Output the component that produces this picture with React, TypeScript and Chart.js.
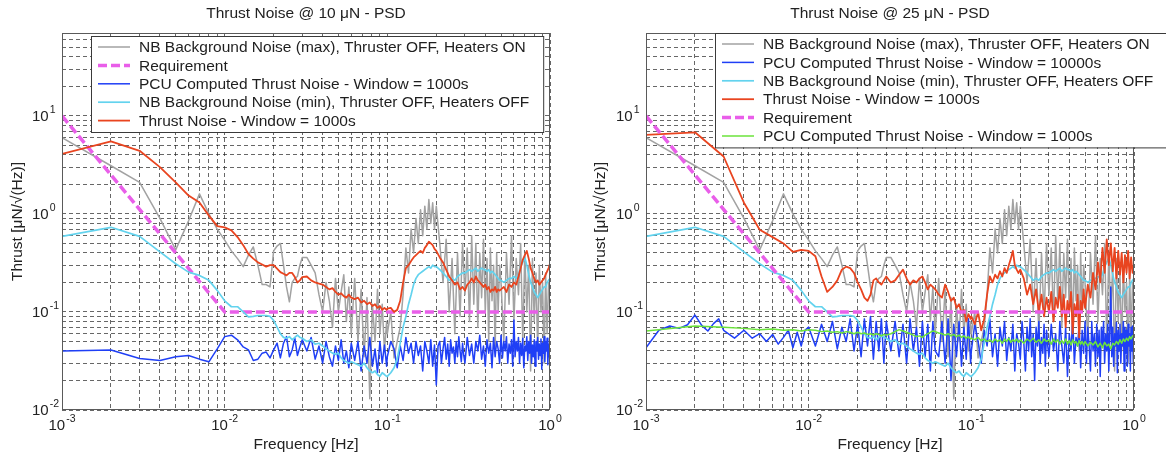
import React, { useEffect, useRef } from 'react';
import { Chart, registerables } from 'chart.js';

Chart.register(...registerables);

const FONT = '"Liberation Sans", Arial, Helvetica, sans-serif';

// ---------- DATA ----------
// Shared frequency grid, in mHz
const FREQ_MHZ = [
  1, 2, 3, 4, 5, 6, 7, 8, 9, 10, 11, 12, 13, 14, 15, 16, 17, 18, 19, 20, 21, 22, 23, 24, 25, 26, 27, 28, 29, 30,
  32, 34, 36, 38, 40, 42, 44, 46, 48, 50, 52, 54, 56, 58, 60,
  63, 66, 69, 72, 75, 78, 81, 84, 87, 90, 93, 96, 99,
  100, 105, 110, 115, 120, 125, 130, 135, 140, 145, 150, 155, 160, 165, 170, 175, 180, 185, 190, 195,
  200, 210, 220, 230, 240, 250, 260, 270, 280, 290,
  300, 310, 320, 330, 340, 350, 360, 370, 380, 390, 400, 410, 420, 430, 440, 450, 460, 470, 480, 490,
  500, 520, 540, 560, 580, 600, 620, 640, 660, 680, 700, 720, 740, 760, 780, 800, 820, 840, 860, 880, 900, 920, 940, 960, 980, 1000,
];

// Finer low-frequency grid for the 10000 s window series (mHz)
const FREQ_FINE_LOW_MHZ = [1, 1.2, 1.4, 1.6, 1.8, 2, 2.2, 2.4, 2.6, 2.8, 3, 3.5, 4, 4.5, 5, 5.5, 6, 6.5, 7, 7.5, 8, 8.5, 9, 9.5];

// Denser high-frequency grid for the PCU (blue) series (mHz)
const FREQ_HIGH_DENSE_MHZ = [
  100, 105, 110, 115, 120, 125, 130, 135, 140, 145, 150, 155, 160, 165, 170, 175, 180, 185, 190, 195,
  200, 205, 210, 215, 220, 225, 230, 235, 240, 245, 250, 255, 260, 265, 270, 275, 280, 285, 290, 295, 300,
  310, 320, 330, 340, 350, 360, 370, 380, 390, 400,
  410, 420, 430, 440, 450, 460, 470, 480, 490, 500,
  510, 520, 530, 540, 550, 560, 570, 580, 590, 600,
  610, 620, 630, 640, 650, 660, 670, 680, 690, 700,
  710, 720, 730, 740, 750, 760, 770, 780, 790, 800,
  810, 820, 830, 840, 850, 860, 870, 880, 890, 900,
  910, 920, 930, 940, 950, 960, 970, 980, 990, 1000,
];

const REQ_FREQ_HZ = [0.001, 0.01, 1];
const REQ_VALUES = [10, 0.1, 0.1];

// NB background noise (max), thruster OFF, heaters ON
const BG_MAX = [
  6.0, 3.1, 2.1, 0.9, 0.43, 0.85, 1.6, 1.0, 0.7, 0.54, 0.42, 0.35, 0.29, 0.38, 0.46, 0.3, 0.19, 0.19, 0.18, 0.42, 0.47, 0.5, 0.3, 0.18, 0.127, 0.2, 0.22, 0.23, 0.3, 0.36,
  0.36, 0.3, 0.25, 0.15, 0.1, 0.2, 0.13, 0.07, 0.22, 0.1, 0.16, 0.24, 0.08, 0.18, 0.06,
  0.22, 0.05, 0.17, 0.035, 0.14, 0.013, 0.12, 0.05, 0.17, 0.06, 0.12, 0.04, 0.08,
  0.06, 0.1, 0.034, 0.05, 0.07, 0.15, 0.45, 0.25, 0.7, 0.4, 0.9, 0.5, 1.1, 0.6, 1.2, 0.7, 1.4, 0.8, 1.3, 0.7,
  1.2, 0.5, 0.2, 0.55, 0.1, 0.35, 0.06, 0.4, 0.09, 0.5,
  0.15, 0.45, 0.08, 0.6, 0.12, 0.5, 0.07, 0.4, 0.14, 0.55, 0.1, 0.35, 0.05, 0.45, 0.13, 0.3, 0.04, 0.4, 0.1, 0.3,
  0.2, 0.05, 0.4, 0.12, 0.6, 0.08, 0.35, 0.15, 0.5, 0.05, 0.4, 0.1, 0.3, 0.025, 0.35, 0.08, 0.25, 0.04, 0.3, 0.1, 0.2, 0.03, 0.25, 0.06, 0.2, 0.15,
];

// NB background noise (min), thruster OFF, heaters OFF
const BG_MIN = [
  0.59, 0.73, 0.59, 0.41, 0.31, 0.255, 0.236, 0.21, 0.166, 0.13, 0.113, 0.113, 0.1, 0.089, 0.09, 0.092, 0.092, 0.092, 0.09, 0.082, 0.07, 0.06, 0.055, 0.054, 0.056, 0.052, 0.055, 0.058, 0.055, 0.054,
  0.05, 0.052, 0.047, 0.048, 0.045, 0.042, 0.04, 0.038, 0.037, 0.038, 0.034, 0.032, 0.031, 0.03, 0.031,
  0.03, 0.029, 0.028, 0.03, 0.027, 0.025, 0.024, 0.025, 0.023, 0.022, 0.024, 0.023, 0.022,
  0.022, 0.024, 0.027, 0.033, 0.048, 0.07, 0.09, 0.12, 0.15, 0.19, 0.22, 0.24, 0.25, 0.26, 0.27, 0.28, 0.29, 0.28, 0.3, 0.29,
  0.29, 0.27, 0.25, 0.23, 0.21, 0.22, 0.21, 0.23, 0.24, 0.25,
  0.25, 0.26, 0.27, 0.26, 0.27, 0.28, 0.26, 0.27, 0.28, 0.27, 0.27, 0.26, 0.27, 0.25, 0.26, 0.25, 0.24, 0.23, 0.22, 0.21,
  0.21, 0.2, 0.21, 0.22, 0.22, 0.23, 0.22, 0.24, 0.29, 0.32, 0.36, 0.3, 0.24, 0.2, 0.18, 0.16, 0.15, 0.14, 0.15, 0.16, 0.17, 0.18, 0.18, 0.2, 0.21, 0.22,
];

// 10 uN: PCU computed thrust noise, window 1000 s (1..99 mHz on shared grid, then dense grid)
const PCU_10 = [
  0.04, 0.041, 0.0335, 0.032, 0.035, 0.036, 0.033, 0.031, 0.042, 0.056, 0.058, 0.052, 0.044, 0.041, 0.032, 0.033, 0.038, 0.039, 0.034, 0.041, 0.048, 0.034, 0.048, 0.056, 0.035, 0.041, 0.054, 0.036, 0.044, 0.052,
  0.04, 0.055, 0.033, 0.045, 0.03, 0.05, 0.035, 0.028, 0.045, 0.032, 0.052, 0.03, 0.04, 0.027, 0.048,
  0.032, 0.05, 0.025, 0.045, 0.03, 0.055, 0.028, 0.042, 0.024, 0.05, 0.03, 0.046, 0.028,
  0.035, 0.05, 0.042, 0.027, 0.045, 0.032, 0.055, 0.038, 0.048, 0.03,
  0.05, 0.036, 0.045, 0.025, 0.05, 0.04, 0.03, 0.052, 0.028, 0.046,
  0.018, 0.045, 0.05, 0.03, 0.042, 0.055, 0.033, 0.047, 0.028, 0.052,
  0.038, 0.044, 0.03, 0.05, 0.035, 0.056, 0.04, 0.031, 0.048, 0.036, 0.03,
  0.055, 0.036, 0.047, 0.03, 0.05, 0.04, 0.058, 0.033, 0.045, 0.028,
  0.052, 0.038, 0.048, 0.027, 0.055, 0.035, 0.05, 0.042, 0.03, 0.058,
  0.034, 0.05, 0.04, 0.056, 0.03, 0.047, 0.038, 0.052, 0.028, 0.083,
  0.035, 0.05, 0.04, 0.055, 0.03, 0.048, 0.036, 0.054, 0.027, 0.045,
  0.04, 0.056, 0.032, 0.05, 0.038, 0.058, 0.03, 0.046, 0.035, 0.052,
  0.028, 0.05, 0.04, 0.055, 0.033, 0.047, 0.036, 0.053, 0.026, 0.048,
  0.038, 0.056, 0.031, 0.05, 0.04, 0.054, 0.029, 0.047, 0.035, 0.045,
];

// 10 uN: thrust noise, window 1000 s
const THRUST_10 = [
  4.1, 5.5, 4.4, 3.0, 2.1, 1.54, 1.31, 0.96, 0.75, 0.73, 0.68, 0.58, 0.48, 0.39, 0.35, 0.32, 0.305, 0.29, 0.3, 0.3, 0.276, 0.255, 0.245, 0.236, 0.25, 0.25, 0.227, 0.2, 0.21, 0.227,
  0.23, 0.21, 0.2, 0.195, 0.19, 0.18, 0.17, 0.175, 0.16, 0.15, 0.155, 0.145, 0.14, 0.15, 0.14,
  0.135, 0.14, 0.125, 0.13, 0.12, 0.125, 0.115, 0.12, 0.11, 0.115, 0.105, 0.11, 0.105,
  0.108, 0.11, 0.1, 0.105, 0.13, 0.2, 0.28, 0.3, 0.33, 0.36, 0.38, 0.4, 0.42, 0.4, 0.45, 0.48, 0.52, 0.5, 0.48, 0.44,
  0.42, 0.36, 0.32, 0.27, 0.23, 0.21, 0.19, 0.2, 0.17, 0.18,
  0.165, 0.19, 0.2, 0.22, 0.2, 0.23, 0.21, 0.2, 0.19, 0.18, 0.19, 0.17, 0.18, 0.16, 0.17, 0.165, 0.18, 0.16, 0.17, 0.165,
  0.17, 0.18, 0.16, 0.19, 0.18, 0.2, 0.19, 0.23, 0.28, 0.34, 0.38, 0.42, 0.35, 0.28, 0.25, 0.22, 0.2, 0.21, 0.19, 0.2, 0.21, 0.22, 0.24, 0.26, 0.28, 0.31,
];

// 25 uN: thrust noise, window 1000 s
const THRUST_25 = [
  6.4, 6.8, 3.85, 1.3, 0.69, 0.58, 0.5, 0.41, 0.43, 0.42, 0.37, 0.23, 0.16, 0.18, 0.21, 0.27, 0.29, 0.28, 0.25, 0.2, 0.17, 0.14, 0.13, 0.15, 0.21, 0.22, 0.2, 0.19, 0.21, 0.23,
  0.2, 0.21, 0.24, 0.27, 0.22, 0.19, 0.21, 0.2, 0.22, 0.23, 0.2, 0.17, 0.19, 0.18, 0.17,
  0.15, 0.14, 0.19, 0.16, 0.13, 0.14, 0.11, 0.12, 0.1, 0.105, 0.08, 0.095, 0.085,
  0.09, 0.075, 0.1, 0.065, 0.085, 0.15, 0.23, 0.2, 0.24, 0.22, 0.26, 0.23, 0.28, 0.25, 0.3, 0.35, 0.42, 0.3, 0.27, 0.25,
  0.27, 0.22, 0.15, 0.19, 0.12, 0.17, 0.1, 0.15, 0.09, 0.14,
  0.1, 0.16, 0.08, 0.14, 0.11, 0.18, 0.09, 0.15, 0.07, 0.13, 0.1, 0.16, 0.06, 0.12, 0.09, 0.15, 0.055, 0.13, 0.1, 0.17,
  0.11, 0.19, 0.14, 0.25, 0.17, 0.32, 0.2, 0.45, 0.25, 0.55, 0.3, 0.5, 0.26, 0.45, 0.22, 0.42, 0.24, 0.4, 0.2, 0.38, 0.25, 0.42, 0.22, 0.36, 0.25, 0.3,
];

// 25 uN: PCU computed thrust noise, window 10000 s (fine low grid, 10..99 mHz shared grid, then dense grid)
const PCU_25_10000 = [
  0.043, 0.065, 0.072, 0.068, 0.074, 0.093, 0.073, 0.064, 0.076, 0.085, 0.065, 0.054, 0.065, 0.054, 0.06, 0.05, 0.059, 0.047, 0.055, 0.065, 0.043, 0.062, 0.045, 0.065,
  0.07, 0.045, 0.075, 0.05, 0.08, 0.042, 0.07, 0.05, 0.085, 0.04, 0.075, 0.035, 0.085, 0.045, 0.09, 0.033, 0.08, 0.04, 0.085, 0.03, 0.08,
  0.04, 0.08, 0.035, 0.075, 0.03, 0.085, 0.04, 0.07, 0.028, 0.08, 0.035, 0.075, 0.025, 0.08, 0.04,
  0.035, 0.08, 0.03, 0.085, 0.02, 0.075, 0.035, 0.08, 0.028, 0.07, 0.033, 0.085, 0.03,
  0.04, 0.075, 0.05, 0.03, 0.065, 0.045, 0.085, 0.035, 0.06, 0.028,
  0.07, 0.045, 0.08, 0.032, 0.055, 0.04, 0.075, 0.025, 0.06, 0.048,
  0.033, 0.08, 0.05, 0.025, 0.07, 0.04, 0.085, 0.035, 0.06, 0.02,
  0.07, 0.045, 0.08, 0.03, 0.055, 0.038, 0.075, 0.028, 0.065, 0.045, 0.035,
  0.075, 0.04, 0.06, 0.025, 0.08, 0.045, 0.03, 0.07, 0.022, 0.06,
  0.04, 0.085, 0.03, 0.055, 0.045, 0.075, 0.027, 0.065, 0.038, 0.08,
  0.03, 0.07, 0.045, 0.025, 0.08, 0.04, 0.06, 0.028, 0.075, 0.035,
  0.065, 0.022, 0.07, 0.045, 0.08, 0.03, 0.06, 0.04, 0.075, 0.025,
  0.065, 0.18, 0.035, 0.07, 0.028, 0.06, 0.045, 0.078, 0.024, 0.065,
  0.04, 0.075, 0.03, 0.06, 0.045, 0.08, 0.025, 0.07, 0.038, 0.065,
  0.028, 0.075, 0.045, 0.06, 0.025, 0.07, 0.04, 0.072, 0.03, 0.065,
];

// 25 uN: PCU computed thrust noise, window 1000 s
const PCU_25_1000 = [
  0.064, 0.072, 0.07, 0.068, 0.066, 0.067, 0.065, 0.066, 0.064, 0.066, 0.065, 0.063, 0.064, 0.062, 0.063, 0.061, 0.063, 0.062, 0.06, 0.062, 0.06, 0.061, 0.059, 0.06, 0.058, 0.06, 0.059, 0.057, 0.059, 0.058,
  0.06, 0.063, 0.066, 0.064, 0.062, 0.06, 0.058, 0.056, 0.057, 0.055, 0.058, 0.06, 0.062, 0.064, 0.063,
  0.061, 0.06, 0.058, 0.06, 0.057, 0.059, 0.056, 0.058, 0.055, 0.057, 0.054, 0.056, 0.053,
  0.054, 0.052, 0.055, 0.051, 0.053, 0.05, 0.052, 0.049, 0.053, 0.05, 0.052, 0.048, 0.053, 0.05, 0.054, 0.049, 0.052, 0.05, 0.053, 0.049,
  0.052, 0.048, 0.053, 0.05, 0.054, 0.049, 0.052, 0.048, 0.053, 0.05,
  0.052, 0.047, 0.053, 0.049, 0.052, 0.047, 0.051, 0.048, 0.053, 0.047, 0.051, 0.046, 0.052, 0.048, 0.05, 0.045, 0.051, 0.047, 0.05, 0.046,
  0.05, 0.045, 0.049, 0.046, 0.05, 0.044, 0.048, 0.043, 0.049, 0.045, 0.047, 0.042, 0.048, 0.046, 0.05, 0.047, 0.052, 0.048, 0.053, 0.05, 0.054, 0.051, 0.056, 0.053, 0.057, 0.058,
];

// Axis decades (tick label exponents) and limits
const X_EXPONENTS = [-3, -2, -1, 0];
const Y_EXPONENTS = [-2, -1, 0, 1];
const X_MIN = 0.001, X_MAX = 1;
const Y_MIN = 0.01, Y_MAX = 70;

const TITLE_10 = 'Thrust Noise @ 10 \u03BCN - PSD';
const TITLE_25 = 'Thrust Noise @ 25 \u03BCN - PSD';
const X_TITLE = 'Frequency [Hz]';
const Y_TITLE = 'Thrust [\u03BCN/\u221A(Hz)]';

const LBL_BG_MAX = 'NB Background Noise (max), Thruster OFF, Heaters ON';
const LBL_BG_MIN = 'NB Background Noise (min), Thruster OFF, Heaters OFF';
const LBL_REQ = 'Requirement';
const LBL_PCU_1000 = 'PCU Computed Thrust Noise - Window = 1000s';
const LBL_PCU_10000 = 'PCU Computed Thrust Noise - Window = 10000s';
const LBL_THRUST = 'Thrust Noise - Window = 1000s';

// ---------- STYLE ----------
const C_GRAY = '#a2a2a2';
const C_MAGENTA = '#e95ee9';
const C_BLUE = '#1f3ff6';
const C_CYAN = '#63d3ee';
const C_RED = '#e9441f';
const C_GREEN = '#6be33b';

function gridValues(min: number, max: number) {
  const out: number[] = [];
  for (let e = Math.floor(Math.log10(min)); e <= Math.ceil(Math.log10(max)); e++) {
    for (let m = 1; m <= 9; m++) {
      const v = parseFloat((m * Math.pow(10, e)).toPrecision(6));
      if (v >= min * 0.9999 && v <= max * 1.0001) out.push(v);
    }
  }
  return out;
}

const ptsMHz = (freq: number[], vals: number[]) =>
  vals.map((v, i) => ({ x: freq[i] / 1000, y: v })).filter((p) => Number.isFinite(p.x));
const ptsHz = (freq: number[], vals: number[]) => vals.map((v, i) => ({ x: freq[i], y: v }));

function drawPow(ctx: CanvasRenderingContext2D, x: number, y: number, e: number, align: 'center' | 'left') {
  ctx.font = `15px ${FONT}`;
  const w1 = ctx.measureText('10').width;
  ctx.font = `10.5px ${FONT}`;
  const es = String(e);
  const w2 = ctx.measureText(es).width;
  const start = align === 'center' ? x - (w1 + w2 + 1) / 2 : x;
  ctx.textAlign = 'left';
  ctx.textBaseline = 'middle';
  ctx.font = `15px ${FONT}`;
  ctx.fillText('10', start, y);
  ctx.font = `10.5px ${FONT}`;
  ctx.fillText(es, start + w1 + 1, y - 7);
}

const matlabPlugin = {
  id: 'matlab',
  afterDraw(chart: any, _args: any, opts: any) {
    const { ctx, chartArea: a, scales } = chart;
    const xs = scales.x;
    const ys = scales.y;
    ctx.save();
    ctx.setLineDash([]);
    // axes box
    ctx.strokeStyle = '#5a5a5a';
    ctx.lineWidth = 1;
    ctx.strokeRect(a.left + 0.5, a.top + 0.5, a.right - a.left - 1, a.bottom - a.top - 1);

    ctx.fillStyle = '#222';
    // tick labels
    for (const e of X_EXPONENTS) {
      drawPow(ctx, xs.getPixelForValue(Math.pow(10, e)), a.bottom + 16, e, 'center');
    }
    for (const e of Y_EXPONENTS) {
      drawPow(ctx, a.left - 30, ys.getPixelForValue(Math.pow(10, e)) + 1, e, 'left');
    }
    // titles
    ctx.font = `15.5px ${FONT}`;
    ctx.textAlign = 'center';
    ctx.textBaseline = 'middle';
    ctx.fillText(opts.title, (a.left + a.right) / 2, 14);
    ctx.fillText(X_TITLE, (a.left + a.right) / 2, 445);
    ctx.save();
    ctx.translate(18, (a.top + a.bottom) / 2);
    ctx.rotate(-Math.PI / 2);
    ctx.fillText(Y_TITLE, 0, 0);
    ctx.restore();

    // legend
    const items = chart.data.datasets;
    ctx.font = `15.5px ${FONT}`;
    const maxW = Math.max(...items.map((d: any) => ctx.measureText(d.label).width));
    const rowH = 18.4;
    const bx = a.left + opts.legendDx;
    const by = a.top + opts.legendDy;
    const bw = 48 + maxW + 14;
    const bh = items.length * rowH + 4;
    ctx.fillStyle = '#ffffff';
    ctx.fillRect(bx, by, bw, bh);
    ctx.strokeStyle = '#3a3a3a';
    ctx.lineWidth = 1;
    ctx.strokeRect(bx + 0.5, by + 0.5, bw, bh);
    items.forEach((d: any, i: number) => {
      const cy = by + 11 + i * rowH;
      ctx.strokeStyle = d.borderColor;
      ctx.lineWidth = Math.min(d.borderWidth, 3.5);
      ctx.setLineDash(d.borderDash || []);
      ctx.beginPath();
      ctx.moveTo(bx + 7, cy);
      ctx.lineTo(bx + 39, cy);
      ctx.stroke();
      ctx.setLineDash([]);
      ctx.fillStyle = '#1e1e1e';
      ctx.textAlign = 'left';
      ctx.textBaseline = 'middle';
      ctx.fillText(d.label, bx + 48, cy + 1);
    });
    ctx.restore();
  },
};

function line(label: string, data: any[], color: string, width: number, order: number, dash?: number[]) {
  return {
    label,
    data,
    borderColor: color,
    backgroundColor: color,
    borderWidth: width,
    borderDash: dash || [],
    pointRadius: 0,
    fill: false,
    tension: 0,
    order,
    borderJoinStyle: 'round',
  };
}

function makeOptions(title: string, padLeft: number, padRight: number, legendDx: number, legendDy: number) {
  const gridCfg = { color: 'rgba(30,30,30,0.85)', lineWidth: 0.8, drawTicks: false };
  const borderCfg = { display: false, dash: [4, 3] };
  return {
    responsive: false,
    animation: false,
    events: [],
    layout: { padding: { left: padLeft, right: padRight, top: 33, bottom: 47 }, autoPadding: false },
    plugins: {
      legend: { display: false },
      tooltip: { enabled: false },
      title: { display: false },
      matlab: { title, legendDx, legendDy },
    },
    scales: {
      x: {
        type: 'logarithmic',
        min: X_MIN,
        max: X_MAX,
        ticks: { display: false },
        grid: gridCfg,
        border: borderCfg,
        afterBuildTicks: (s: any) => {
          s.ticks = gridValues(X_MIN, X_MAX).map((v) => ({ value: v }));
        },
      },
      y: {
        type: 'logarithmic',
        min: Y_MIN,
        max: Y_MAX,
        ticks: { display: false },
        grid: gridCfg,
        border: borderCfg,
        afterBuildTicks: (s: any) => {
          s.ticks = gridValues(Y_MIN, Y_MAX).map((v) => ({ value: v }));
        },
      },
    },
  };
}

function leftConfig(): any {
  const blueFreq = [...FREQ_MHZ.slice(0, 58), ...FREQ_HIGH_DENSE_MHZ];
  return {
    type: 'line',
    data: {
      datasets: [
        line(LBL_BG_MAX, ptsMHz(FREQ_MHZ, BG_MAX), C_GRAY, 1.5, 5),
        line(LBL_REQ, ptsHz(REQ_FREQ_HZ, REQ_VALUES), C_MAGENTA, 3.5, 4, [9, 4]),
        line(LBL_PCU_1000, ptsMHz(blueFreq, PCU_10), C_BLUE, 1.5, 3),
        line(LBL_BG_MIN, ptsMHz(FREQ_MHZ, BG_MIN), C_CYAN, 1.7, 2),
        line(LBL_THRUST, ptsMHz(FREQ_MHZ, THRUST_10), C_RED, 1.8, 1),
      ],
    },
    options: makeOptions(TITLE_10, 62, 33, 29, 3),
    plugins: [matlabPlugin],
  };
}

function rightConfig(): any {
  const blueFreq = [...FREQ_FINE_LOW_MHZ, ...FREQ_MHZ.slice(9, 58), ...FREQ_HIGH_DENSE_MHZ];
  return {
    type: 'line',
    data: {
      datasets: [
        line(LBL_BG_MAX, ptsMHz(FREQ_MHZ, BG_MAX), C_GRAY, 1.5, 6),
        line(LBL_PCU_10000, ptsMHz(blueFreq, PCU_25_10000), C_BLUE, 1.5, 5),
        line(LBL_BG_MIN, ptsMHz(FREQ_MHZ, BG_MIN), C_CYAN, 1.7, 4),
        line(LBL_THRUST, ptsMHz(FREQ_MHZ, THRUST_25), C_RED, 1.8, 3),
        line(LBL_REQ, ptsHz(REQ_FREQ_HZ, REQ_VALUES), C_MAGENTA, 3.5, 2, [9, 4]),
        line(LBL_PCU_1000, ptsMHz(FREQ_MHZ, PCU_25_1000), C_GREEN, 1.5, 1),
      ],
    },
    options: makeOptions(TITLE_25, 63, 32, 69, 0),
    plugins: [matlabPlugin],
  };
}

function Panel({ build }: { build: () => any }) {
  const ref = useRef<HTMLCanvasElement | null>(null);
  useEffect(() => {
    if (!ref.current) return;
    const chart = new Chart(ref.current, build());
    return () => chart.destroy();
  }, [build]);
  return <canvas ref={ref} width={583} height={457} style={{ display: 'block', width: 583, height: 457 }} />;
}

export default function App() {
  return (
    <div
      style={{
        position: 'fixed',
        left: 0,
        top: 0,
        width: 1166,
        height: 457,
        display: 'flex',
        background: '#ffffff',
        overflow: 'hidden',
      }}
    >
      <Panel build={leftConfig} />
      <Panel build={rightConfig} />
    </div>
  );
}
